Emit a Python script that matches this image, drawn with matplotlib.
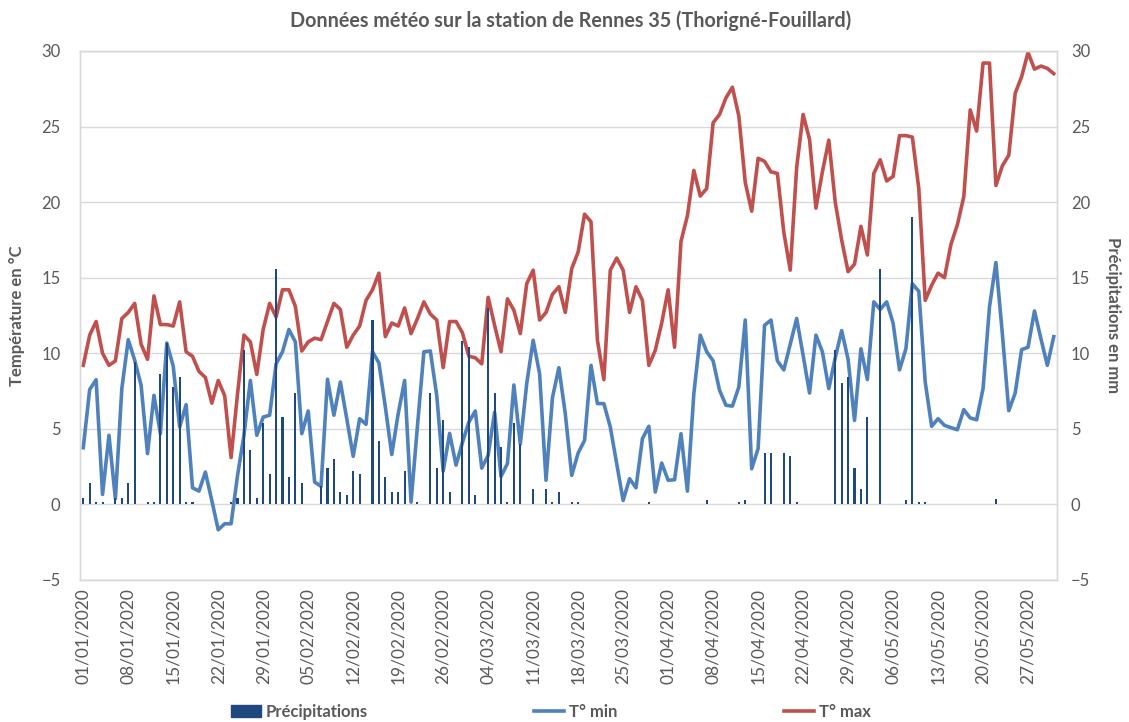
import pandas as pd
import matplotlib
matplotlib.use("Agg")
import matplotlib.pyplot as plt
from matplotlib.patches import Patch
from matplotlib.lines import Line2D

plt.rcParams['font.family'] = ['Lato', 'DejaVu Sans']

# daily data, 01/01/2020 -> 31/05/2020 (one row = one week)
tmin = [
    3.75, 7.6, 8.25, 0.66, 4.57, 0.38, 7.66,
    10.9, 9.54, 7.88, 3.36, 7.22, 4.68, 10.68,
    9.14, 5.12, 6.6, 1.1, 0.88, 2.14, 0.26,
    -1.68, -1.28, -1.28, 1.9, 4.57, 8.2, 4.57,
    5.78, 5.9, 9.3, 10.1, 11.57, 10.75, 4.68,
    6.18, 1.48, 1.19, 8.28, 5.9, 8.1, 5.67,
    3.18, 5.67, 5.3, 10.1, 9.36, 6.45, 3.3,
    6.0, 8.2, 0.15, 5.2, 10.1, 10.15, 7.2,
    2.2, 4.7, 2.6, 4.1, 5.45, 6.18, 2.4,
    3.25, 6.1, 1.85, 2.7, 7.9, 4.0, 8.0,
    10.86, 8.65, 1.6, 7.06, 9.05, 6.0, 1.92,
    3.4, 4.24, 9.2, 6.67, 6.67, 5.12, 2.7,
    0.26, 1.7, 1.1, 4.35, 5.17, 0.82, 2.74,
    1.6, 1.63, 4.68, 0.88, 7.33, 11.2, 10.1,
    9.5, 7.55, 6.56, 6.5, 7.77, 12.2, 2.36,
    3.7, 11.85, 12.2, 9.5, 8.9, 10.6, 12.3,
    9.87, 7.37, 11.2, 10.1, 7.66, 9.7, 11.5,
    9.6, 5.56, 10.3, 8.26, 13.4, 12.9, 13.4,
    12.0, 8.9, 10.3, 14.6, 14.1, 8.1, 5.17,
    5.67, 5.23, 5.08, 4.94, 6.27, 5.72, 5.6,
    7.66, 13.07, 16.0, 11.3, 6.2, 7.37, 10.24,
    10.4, 12.8, 10.97, 9.2, 11.1,
]

tmax = [
    9.2, 11.2, 12.1, 10.0, 9.2, 9.5, 12.3,
    12.7, 13.3, 10.6, 9.6, 13.8, 11.9, 11.9,
    11.8, 13.4, 10.1, 9.8, 8.8, 8.4, 6.7,
    8.2, 7.2, 3.1, 7.3, 11.2, 10.75, 8.6,
    11.6, 13.3, 12.4, 14.2, 14.2, 13.1, 10.15,
    10.75, 11.0, 10.9, 12.1, 13.3, 12.9, 10.4,
    11.2, 11.8, 13.5, 14.2, 15.3, 11.1, 12.0,
    11.8, 13.0, 11.3, 12.3, 13.4, 12.6, 12.2,
    9.05, 12.1, 12.1, 11.35, 9.8, 9.7, 9.3,
    13.7, 11.85, 10.1, 13.6, 12.85, 11.3, 14.6,
    15.5, 12.2, 12.7, 13.9, 14.4, 12.7, 15.6,
    16.7, 19.2, 18.7, 10.86, 8.26, 15.5, 16.3,
    15.5, 12.7, 14.4, 13.5, 9.2, 10.2, 12.0,
    14.2, 10.4, 17.4, 19.1, 22.1, 20.4, 20.9,
    25.25, 25.8, 26.9, 27.6, 25.7, 21.3, 19.4,
    22.9, 22.7, 22.0, 21.9, 18.0, 15.5, 22.3,
    25.8, 24.15, 19.6, 22.0, 24.1, 20.0, 17.5,
    15.4, 15.9, 18.4, 16.5, 21.9, 22.8, 21.4,
    21.7, 24.4, 24.4, 24.3, 20.9, 13.5, 14.5,
    15.3, 15.0, 17.2, 18.5, 20.35, 26.1, 24.7,
    29.2, 29.2, 21.1, 22.4, 23.1, 27.2, 28.3,
    29.9, 28.8, 29.0, 28.85, 28.5,
]

precip = [
    0.4, 1.4, 0.15, 0.15, 0, 0.4, 0.4,
    1.4, 9.4, 0, 0.15, 0.15, 8.6, 10.7,
    7.8, 8.4, 0.15, 0.15, 0, 0, 0,
    0, 0, 0.15, 0.4, 10.2, 3.6, 0.4,
    5.4, 2.0, 15.6, 5.8, 1.8, 7.4, 1.4,
    0, 0, 1.2, 2.4, 3.0, 0.8, 0.6,
    2.2, 2.0, 0, 12.2, 4.2, 1.8, 0.8,
    0.8, 2.2, 0, 0.15, 0, 7.4, 2.4,
    5.6, 0.8, 0, 10.8, 10.4, 0.6, 0,
    13.0, 7.4, 3.8, 0.15, 5.4, 4.0, 0,
    1.0, 0, 1.0, 0.15, 0.8, 0, 0.15,
    0.15, 0, 0, 0, 0, 0, 0,
    0, 0, 0, 0, 0.15, 0, 0,
    0, 0, 0, 0, 0, 0, 0.3,
    0, 0, 0, 0, 0.15, 0.3, 0,
    0, 3.4, 3.4, 0, 3.4, 3.2, 0.15,
    0, 0, 0, 0, 0, 10.2, 8.0,
    8.4, 2.4, 1.0, 5.8, 0, 15.6, 0,
    0, 0, 0.3, 19.0, 0.15, 0.15, 0,
    0, 0, 0, 0, 0, 0, 0,
    0, 0, 0.35, 0, 0, 0, 0,
    0, 0, 0, 0, 0,
]

dates = pd.date_range("2020-01-01", periods=len(tmin), freq="D")
x = list(range(len(dates)))

grey = "#595959"
grid = "#d9d9d9"
c_bar = "#1f497d"
c_min = "#4f81bd"
c_max = "#c0504d"

fig = plt.figure(figsize=(11.29, 7.22), dpi=100)
ax = fig.add_axes([0.0709, 0.1967, 0.8653, 0.7327])
ax2 = ax.twinx()

ax.plot(x, tmin, color=c_min, lw=2.6, solid_joinstyle="round")
ax.plot(x, tmax, color=c_max, lw=2.6, solid_joinstyle="round")
ax2.bar(x, precip, width=0.32, color=c_bar)

for a in (ax, ax2):
    a.set_ylim(-5, 30)
    a.set_yticks(range(-5, 31, 5))
    a.set_xlim(-0.5, len(x) - 0.5)
    a.tick_params(axis="both", length=0, colors=grey, labelsize=12)
    for s in a.spines.values():
        s.set_color(grid)
        s.set_linewidth(1)

ax.grid(axis="y", color=grid, lw=1)
ax.set_axisbelow(True)

ticks = x[::7]
ax.set_xticks(ticks)
ax.set_xticklabels([dates[i].strftime("%d/%m/%Y") for i in ticks], rotation=90)
ax.tick_params(axis="x", pad=6, labelsize=12.5)
ax.tick_params(axis="y", pad=14)
ax2.tick_params(axis="y", pad=10)

ax.set_ylabel("Température en °C", fontsize=12, fontweight="bold", color=grey, labelpad=12)
ax2.set_ylabel("Précipitations en mm", fontsize=12, fontweight="bold", color=grey,
               rotation=270, labelpad=22)

fig.suptitle("Données météo sur la station de Rennes 35 (Thorigné-Fouillard)",
             x=0.505, y=0.985, fontsize=14.2, fontweight="bold", color=grey)

handles = [Patch(color=c_bar), Line2D([], [], color=c_min, lw=2.6),
           Line2D([], [], color=c_max, lw=2.6)]
labels = ["Précipitations", "T° min", "T° max"]
leg = fig.legend(handles, labels, loc="center", bbox_to_anchor=(0.488, 0.014), ncol=3,
                 frameon=False, columnspacing=10.0, handlelength=1.8, handletextpad=0.3,
                 prop={"size": 12, "weight": "bold"})
for t in leg.get_texts():
    t.set_color(grey)

fig.savefig("out.png", dpi=100)
